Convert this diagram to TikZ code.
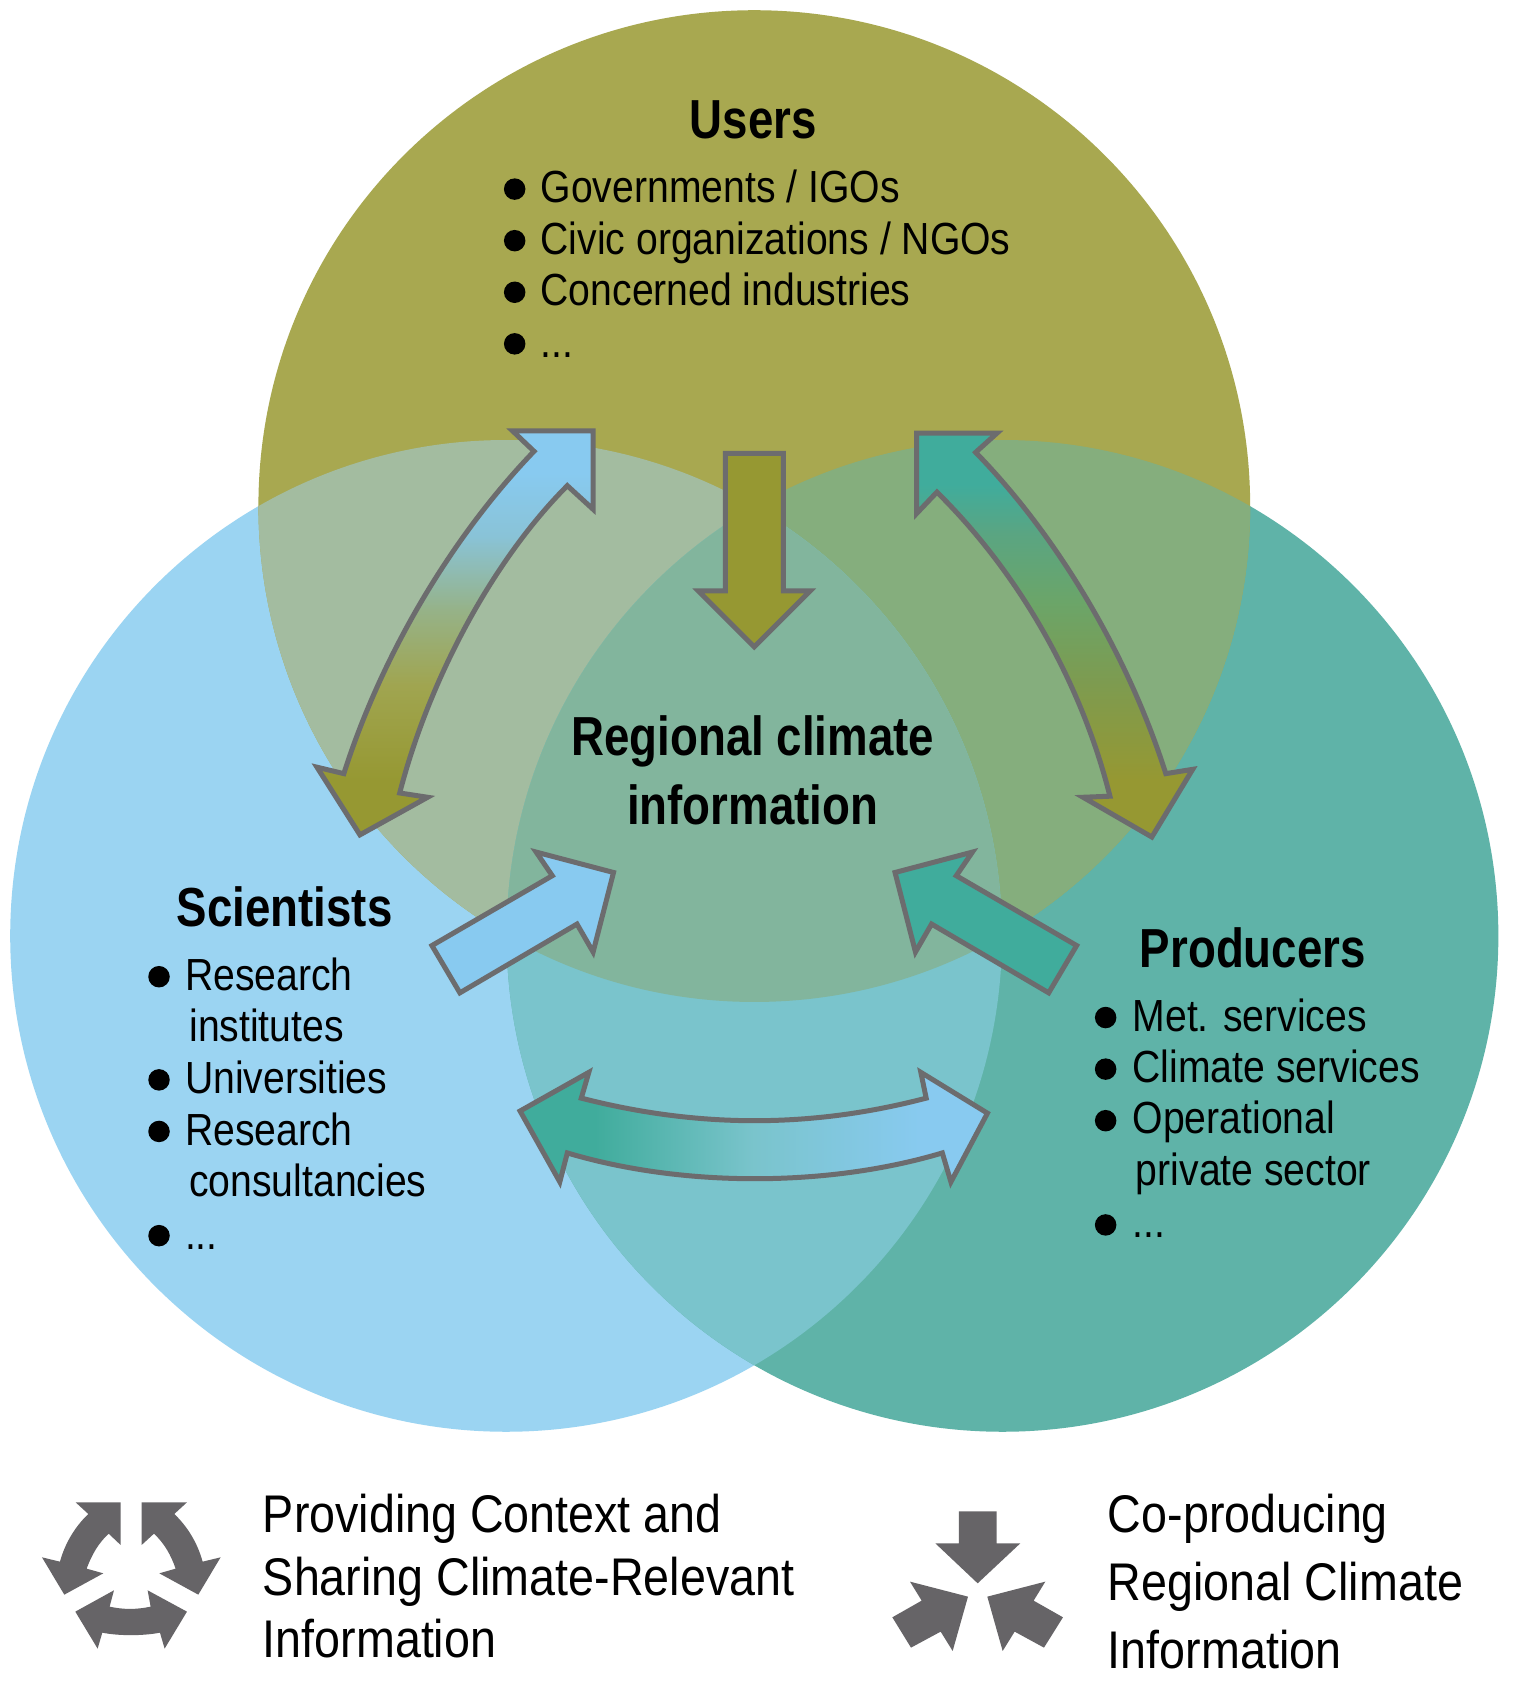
\documentclass[tikz,border=0pt]{standalone}
\usepackage{fontspec}
\newfontfamily\bodyfont[FakeStretch=.87]{Liberation Sans}
\newfontfamily\headfont[FakeStretch=.83]{Liberation Sans}
\newfontfamily\legendfont[FakeStretch=.88]{Liberation Sans}
\definecolor{usercol}{RGB}{168,168,80}
\definecolor{scicol}{RGB}{155,212,242}
\definecolor{prodcol}{RGB}{95,179,168}
\definecolor{usersci}{RGB}{163,188,160}
\definecolor{userprod}{RGB}{133,174,125}
\definecolor{sciprod}{RGB}{122,196,204}
\definecolor{allcol}{RGB}{130,181,157}
\definecolor{oliveflow}{RGB}{150,152,50}
\definecolor{blueflow}{RGB}{136,202,240}
\definecolor{tealflow}{RGB}{64,172,156}
\definecolor{edgecol}{RGB}{108,108,110}
\definecolor{iconcol}{RGB}{102,100,103}
\definecolor{scimida}{RGB}{160,165,80}
\definecolor{scimidb}{RGB}{150,178,135}
\definecolor{scimidc}{RGB}{137,195,215}
\definecolor{prodmida}{RGB}{125,155,80}
\definecolor{prodmidb}{RGB}{107,165,105}
\definecolor{prodmidc}{RGB}{90,165,130}
\pgfdeclareverticalshading{sciflow}{100bp}{color(0bp)=(oliveflow); color(31.7bp)=(oliveflow); color(43.5bp)=(scimida); color(52.7bp)=(scimidb); color(62bp)=(scimidc); color(69.8bp)=(blueflow); color(100bp)=(blueflow)}
\pgfdeclareverticalshading{prodflow}{100bp}{color(0bp)=(oliveflow); color(32bp)=(oliveflow); color(44.2bp)=(prodmida); color(54.2bp)=(prodmidb); color(62.6bp)=(prodmidc); color(68.6bp)=(tealflow); color(100bp)=(tealflow)}
\pgfdeclarehorizontalshading{crossflow}{100bp}{color(0bp)=(tealflow); color(33bp)=(tealflow); color(50bp)=(sciprod); color(68bp)=(blueflow); color(100bp)=(blueflow)}
\tikzset{
	flow/.style={draw=edgecol, line width=5pt, miter limit=10, line join=miter},
	listtext/.style={anchor=base west, inner sep=0pt, font=\bodyfont\fontsize{45}{52}\selectfont},
	headtext/.style={anchor=base, inner sep=0pt, font=\headfont\bfseries\fontsize{55}{60}\selectfont},
	legendtext/.style={anchor=base west, inner sep=0pt, font=\legendfont\fontsize{53}{60}\selectfont},
	icon/.style={fill=iconcol},
}

\begin{document}
\begin{tikzpicture}[x=1.0745pt, y=-1.0745pt]
	%%%%% CIRCLES %%%%%
	\useasboundingbox[fill=white] (0, 0) rectangle (1410.9, 1568.2);
	\coordinate (usercentre) at (702, 471);
	\coordinate (scicentre) at (471, 871);
	\coordinate (prodcentre) at (933, 871);
	
	\fill[scicol] (scicentre) circle (461.5);
	\fill[prodcol] (prodcentre) circle (461.5);
	\fill[usercol] (usercentre) circle (461.5);
	\begin{scope}
		\clip (usercentre) circle (461.5);
		\fill[usersci] (scicentre) circle (461.5);
		\fill[userprod] (prodcentre) circle (461.5);
	\end{scope}
	\begin{scope}
		\clip (scicentre) circle (461.5);
		\fill[sciprod] (prodcentre) circle (461.5);
		\clip (prodcentre) circle (461.5);
		\fill[allcol] (usercentre) circle (461.5);
	\end{scope}
	
	%%%%% ARROWS %%%%%
	\draw[flow, fill=oliveflow] (675, 422) -- (729, 422) -- (729, 550) -- (754, 550) -- (702, 602) -- (650, 550) -- (675, 550) -- cycle;
	
	\draw[flow, shade, shading=sciflow]
		(552, 401) -- (477, 401) -- (497, 420) .. controls (420, 500) and (355, 610) .. (320, 720)
		-- (295, 714) -- (335, 777) -- (398, 742) -- (372, 738)
		.. controls (400, 630) and (460, 520) .. (528, 452) -- (552, 474) -- cycle;
	
	\draw[flow, shade, shading=prodflow]
		(853, 403) -- (928, 403) -- (908, 421) .. controls (985, 500) and (1050, 610) .. (1085, 720)
		-- (1110, 716) -- (1072, 779) -- (1008, 742) -- (1033, 741)
		.. controls (1005, 630) and (945, 530) .. (872, 458) -- (853, 478) -- cycle;
	
	\draw[flow, fill=blueflow] (402, 880) -- (514, 815) -- (499, 793) -- (571, 812) -- (552, 886) -- (537, 860) -- (428, 924) -- cycle;
	\draw[flow, fill=tealflow] (1002, 880) -- (890, 815) -- (905, 793) -- (833, 812) -- (852, 886) -- (867, 860) -- (976, 924) -- cycle;
	
	\draw[flow, shade, shading=crossflow]
		(484, 1034) -- (548, 998) -- (541, 1022) .. controls (650, 1050) and (755, 1050) .. (862, 1022)
		-- (857, 998) -- (919, 1036) -- (885, 1100) -- (877, 1073)
		.. controls (770, 1105) and (635, 1105) .. (528, 1073) -- (521, 1100) -- cycle;
	
	%%%%% USERS %%%%%
	\node[headtext] (usershead) at (701, 129) {Users};
	\fill (479, 176) circle (10);
	\node[listtext] (gov) at (503, 188.5) {Governments / IGOs};
	\fill (479, 224) circle (10);
	\node[listtext] (civic) at (503, 236.5) {Civic organizations / NGOs};
	\fill (479, 272) circle (10);
	\node[listtext] (indust) at (503, 284.5) {Concerned industries};
	\fill (479, 320) circle (10);
	\node[listtext] (usersmore) at (503, 333) {...};
	
	%%%%% CENTRE %%%%%
	\node[headtext] (regional) at (700.5, 703.5) {Regional climate};
	\node[headtext] (inform) at (700.5, 767) {information};
	
	%%%%% SCIENTISTS %%%%%
	\node[headtext] (scihead) at (265, 862.5) {Scientists};
	\fill (148, 909) circle (10);
	\node[listtext] (institutesa) at (172, 922) {Research};
	\node[listtext] (institutesb) at (176, 969.5) {institutes};
	\fill (148, 1005) circle (10);
	\node[listtext] (univ) at (172, 1018) {Universities};
	\fill (148, 1053) circle (10);
	\node[listtext] (consulta) at (172, 1066.5) {Research};
	\node[listtext] (consultb) at (176, 1114) {consultancies};
	\fill (148, 1150) circle (10);
	\node[listtext] (scimore) at (172, 1163) {...};
	
	%%%%% PRODUCERS %%%%%
	\node[headtext] (prodhead) at (1166, 900.5) {Producers};
	\fill (1029, 947) circle (10);
	\node[listtext] (met) at (1054, 960) {Met. services};
	\fill (1029, 995) circle (10);
	\node[listtext] (climserv) at (1054, 1007) {Climate services};
	\fill (1029, 1043) circle (10);
	\node[listtext] (operata) at (1054, 1055) {Operational};
	\node[listtext] (operatb) at (1057, 1103) {private sector};
	\fill (1029, 1140) circle (10);
	\node[listtext] (prodmore) at (1054, 1152) {...};
	
	%%%%% LEGEND %%%%%
	\begin{scope}[shift={(27.9, 1386.7)}, x=.3333pt, y=-.3333pt]
		\fill[icon] (137, 37) -- (272, 37) -- (272, 165) -- (236, 131) .. controls (205, 160) and (185, 195) .. (170, 236) -- (220, 250) -- (103, 314) -- (36, 202) -- (90, 215) .. controls (105, 160) and (135, 110) .. (175, 72) -- cycle;
		\fill[icon] (471, 37) -- (335, 37) -- (335, 165) -- (372, 131) .. controls (403, 160) and (423, 195) .. (437, 236) -- (388, 250) -- (505, 314) -- (572, 202) -- (518, 215) .. controls (503, 160) and (473, 110) .. (433, 72) -- cycle;
		\fill[icon] (136, 365) -- (252, 301) -- (239, 350) .. controls (280, 359) and (320, 359) .. (362, 350) -- (353, 301) -- (471, 365) -- (404, 476) -- (390, 428) .. controls (340, 438) and (265, 438) .. (217, 428) -- (203, 476) -- cycle;
	\end{scope}
	\begin{scope}[shift={(819, 1396)}, x=.3333pt, y=-.3333pt]
		\fill[icon] (237, 34) -- (350, 34) -- (350, 130) -- (421, 130) -- (293, 250) -- (166, 130) -- (237, 130) -- cycle;
		\fill[icon] (37, 352) -- (125, 302) -- (90, 245) -- (264, 290) -- (218, 453) -- (182, 395) -- (93, 443) -- cycle;
		\fill[icon] (549, 352) -- (461, 302) -- (496, 245) -- (322, 290) -- (368, 453) -- (404, 395) -- (492, 443) -- cycle;
	\end{scope}
	
	\node[legendtext] (ctxa) at (244.5, 1426) {Providing Context and};
	\node[legendtext] (ctxb) at (244.5, 1484.5) {Sharing Climate-Relevant};
	\node[legendtext] (ctxc) at (244.5, 1543) {Information};
	\node[legendtext] (coa) at (1031, 1426.5) {Co-producing};
	\node[legendtext] (cob) at (1031, 1490) {Regional Climate};
	\node[legendtext] (coc) at (1031, 1553) {Information};
\end{tikzpicture}
\end{document}
